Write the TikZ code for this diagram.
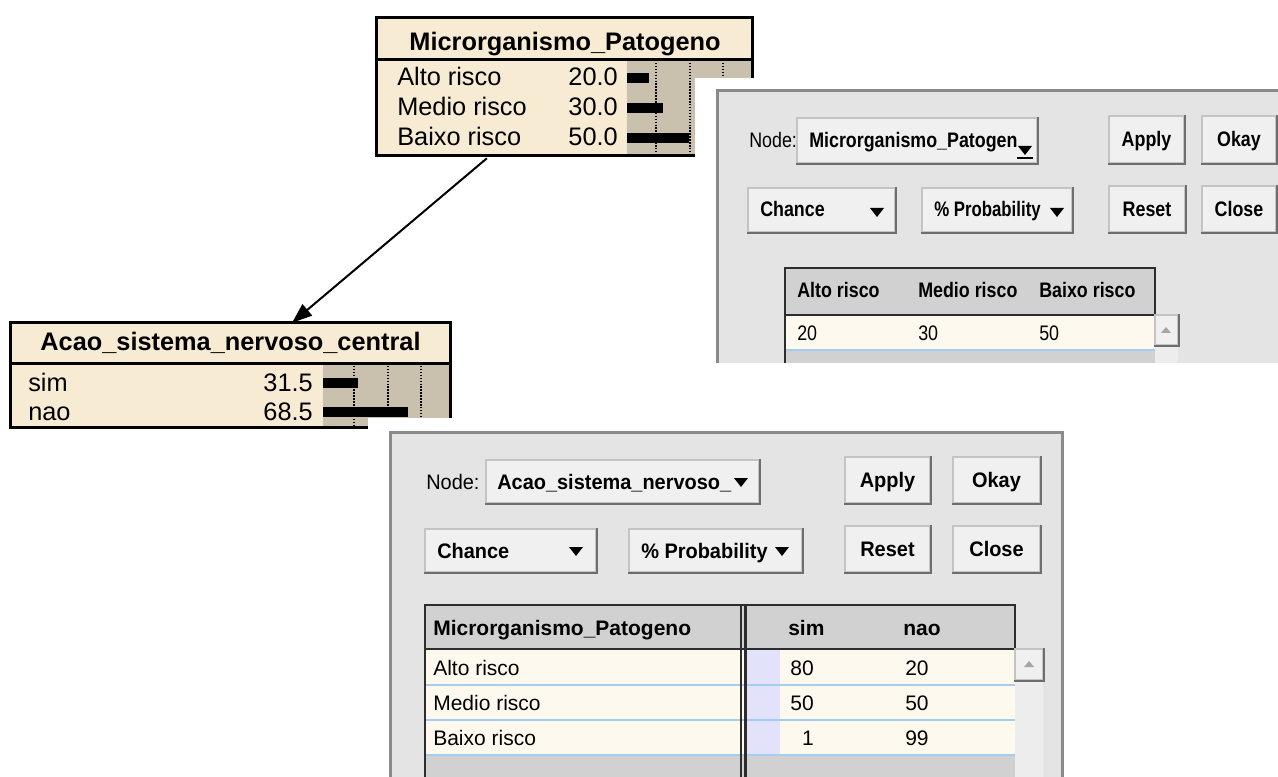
\documentclass[tikz,border=0pt]{standalone}
\usepackage{fontspec}
\setmainfont{Liberation Sans}
\usepackage{graphicx}
\usetikzlibrary{arrows.meta,calc,fit}

\definecolor{netcream}{RGB}{247,236,211}
\definecolor{nettan}{RGB}{201,193,173}
\definecolor{dlgbg}{RGB}{228,228,228}
\definecolor{dlgedge}{RGB}{138,138,138}
\definecolor{btnface}{RGB}{240,240,240}
\definecolor{btnrim}{RGB}{196,196,196}
\definecolor{btnshade}{RGB}{110,110,110}
\definecolor{hdrgray}{RGB}{209,209,209}
\definecolor{rowcream}{RGB}{254,249,239}
\definecolor{rowline}{RGB}{166,204,240}
\definecolor{lavender}{RGB}{226,226,250}
\definecolor{tabedge}{RGB}{45,45,45}
\definecolor{trackgray}{RGB}{237,237,237}
\definecolor{scrollarrow}{RGB}{165,165,165}

\newcommand\netfont{\fontsize{19pt}{19pt}\selectfont}
\newcommand\dlgfont{\fontsize{15.75pt}{16pt}\selectfont}
% horizontally squeezed dialog lettering
\newcommand\sqU[1]{\scalebox{0.85}[1]{#1}}
\newcommand\sqL[1]{\scalebox{0.95}[1]{#1}}
\newcommand\sqT[1]{\scalebox{1.0}[1]{#1}}
% dark shadow on the lower and right edges of a button node
\newcommand\bevel[1]{\draw[btnedge] (#1.south west) -- (#1.south east) -- (#1.north east);}
% caption centred on a button node
\newcommand\btncap[2]{\node[dtxt, anchor=base] (#1cap) at ($(#1.center)+(0,7.5)$) {#2};}
% drop-down arrow: centre x, top y, half width
\newcommand\ddarrow[3]{\fill (#1-#3,#2) -- (#1+#3,#2) -- (#1,#2+9) -- cycle;}
% scroll-up arrow: centre x, top y
\newcommand\uparrowbtn[2]{\fill[scrollarrow] (#1,#2) -- (#1+5,#2+6) -- (#1-5,#2+6) -- cycle;}

\begin{document}
\begin{tikzpicture}[x=0.75pt,y=-0.75pt,
  netfill/.style={fill=netcream, inner sep=0pt},
  netframe/.style={draw=black, line width=2.25pt},
  nettxt/.style={inner sep=0pt, font=\netfont},
  gridline/.style={black, line width=1.1pt, dash pattern=on 1.1pt off 1.1pt},
  link/.style={line width=1.5pt, -{Triangle[length=15pt,width=11pt]}},
  mask/.style={fill=white},
  dlgrim/.style={draw=dlgedge, line width=2.25pt},
  button/.style={draw=btnrim, fill=btnface, line width=0.9pt, inner sep=0pt},
  btnedge/.style={draw=btnshade, line width=1.6pt},
  dtxt/.style={inner sep=0pt, font=\dlgfont},
  tabrim/.style={draw=tabedge, line width=1.6pt},
  rowsep/.style={draw=rowline, line width=1.5pt},
]
\useasboundingbox (0,0) rectangle (1278,777);

% ---------- belief box: Microrganismo_Patogeno ----------
\node[netfill, fit={(377,18) (752,155)}] (mp) {};
\fill[nettan] (627,60) rectangle (752,155);
\foreach \gx in {656,690,723} \draw[gridline] (\gx,60) -- (\gx,155);
\fill (627,73) rectangle (649,83);
\fill (627,103) rectangle (663,113);
\fill (627,133) rectangle (689,143);
\draw[netframe] (mp.north west) rectangle (mp.south east);
\draw[netframe] (377,60) -- (752,60);
\node[nettxt, font=\netfont\bfseries, anchor=base] (mpT) at (565,51) {Microrganismo\_Patogeno};
\node[nettxt, anchor=base west] (mpA) at (397,86) {Alto risco};
\node[nettxt, anchor=base west] (mpM) at (397,116) {Medio risco};
\node[nettxt, anchor=base west] (mpB) at (397,146) {Baixo risco};
\node[nettxt, anchor=base east] (mpAv) at (618,86) {20.0};
\node[nettxt, anchor=base east] (mpMv) at (618,116) {30.0};
\node[nettxt, anchor=base east] (mpBv) at (618,146) {50.0};

% ---------- belief box: Acao_sistema_nervoso_central ----------
\node[netfill, fit={(11,323) (450,427)}] (ac) {};
\fill[nettan] (323,363) rectangle (450,427);
\foreach \gx in {354,388,421} \draw[gridline] (\gx,363) -- (\gx,427);
\fill (323,378) rectangle (358,388);
\fill (323,407) rectangle (408,417);
\draw[netframe] (ac.north west) rectangle (ac.south east);
\draw[netframe] (11,363) -- (450,363);
\node[nettxt, font=\netfont\bfseries, anchor=base] (acT) at (230.5,350) {Acao\_sistema\_nervoso\_central};
\node[nettxt, anchor=base west] (acS) at (28,391) {sim};
\node[nettxt, anchor=base west] (acN) at (28,420) {nao};
\node[nettxt, anchor=base east] (acSv) at (313,391) {31.5};
\node[nettxt, anchor=base east] (acNv) at (313,420) {68.5};

% ---------- dependency link ----------
\draw[link] ($(mp.south west)!0.2933!(mp.south east)+(0,3)$) -- ($(ac.north west)!0.6401!(ac.north east)$);

% ---------- margins of the two table windows ----------
\fill[mask] (695,78) rectangle (1278,366);
\fill[mask] (368,418) rectangle (1278,777);

% ---------- table window for Microrganismo_Patogeno ----------
\fill[dlgbg] (717,91) rectangle (1278,363);
\draw[dlgrim] (717,363) -- (717,91) -- (1278,91);

\node[dtxt, anchor=base west] (uNodeL) at (749,148) {\sqU{Node:}};
\node[button, fit={(797,118) (1037,163)}] (uNodeDD) {};
\bevel{uNodeDD}
\node[dtxt, anchor=base west] (uNodeT) at (809,148) {\sqU{\bfseries Microrganismo\_Patogen}};
\ddarrow{1025}{146}{7}
\draw[line width=1.2pt] (1017,158) -- (1033,158);

\node[button, fit={(1109,116) (1184,163)}] (uApply) {};
\bevel{uApply}
\btncap{uApply}{\sqU{\bfseries Apply}}
\node[button, fit={(1202,116) (1276,163)}] (uOkay) {};
\bevel{uOkay}
\btncap{uOkay}{\sqU{\bfseries Okay}}

\node[button, fit={(748,188) (895,232)}] (uChance) {};
\bevel{uChance}
\node[dtxt, anchor=base west] (uChanceT) at (760,217) {\sqU{\bfseries Chance}};
\ddarrow{877}{208}{7}
\node[button, fit={(922,188) (1072,232)}] (uProb) {};
\bevel{uProb}
\node[dtxt, anchor=base west] (uProbT) at (934,217) {\scalebox{0.8}[1]{\bfseries \% Probability}};
\ddarrow{1057}{208}{7}

\node[button, fit={(1109,186) (1185,232)}] (uReset) {};
\bevel{uReset}
\btncap{uReset}{\sqU{\bfseries Reset}}
\node[button, fit={(1202,186) (1276,232)}] (uClose) {};
\bevel{uClose}
\btncap{uClose}{\sqU{\bfseries Close}}

% probability table
\fill[hdrgray] (785,268) rectangle (1155,315);
\fill[rowcream] (785,315) rectangle (1155,350);
\fill[hdrgray] (785,350) rectangle (1155,363);
\draw[rowsep] (785,350) -- (1155,350);
\draw[tabrim] (785,363) -- (785,268) -- (1155,268) -- (1155,315) -- (785,315);
\node[dtxt, anchor=base west] (uH1) at (797,298) {\sqU{\bfseries Alto risco}};
\node[dtxt, anchor=base west] (uH2) at (918,298) {\sqU{\bfseries Medio risco}};
\node[dtxt, anchor=base west] (uH3) at (1039,298) {\sqU{\bfseries Baixo risco}};
\node[dtxt, anchor=base west] (uV1) at (797,340) {\sqU{20}};
\node[dtxt, anchor=base west] (uV2) at (918,340) {\sqU{30}};
\node[dtxt, anchor=base west] (uV3) at (1039,340) {\sqU{50}};
\fill[trackgray] (1155,345) rectangle (1178,363);
\node[button, fit={(1155,315) (1178,345)}] (uScroll) {};
\bevel{uScroll}
\uparrowbtn{1166}{327}

% ---------- table window for Acao_sistema_nervoso_central ----------
\fill[dlgbg] (390,432) rectangle (1062,777);
\draw[dlgrim] (390,777) -- (390,432) -- (1062,432) -- (1062,777);

\node[dtxt, anchor=base west] (lNodeL) at (426,489) {\sqL{Node:}};
\node[button, fit={(486,460) (759,503)}] (lNodeDD) {};
\bevel{lNodeDD}
\node[dtxt, anchor=base west] (lNodeT) at (497,489) {\sqL{\bfseries Acao\_sistema\_nervoso\_}};
\ddarrow{741}{478}{7}

\node[button, fit={(845,457) (930,503)}] (lApply) {};
\bevel{lApply}
\btncap{lApply}{\sqL{\bfseries Apply}}
\node[button, fit={(953,457) (1040,503)}] (lOkay) {};
\bevel{lOkay}
\btncap{lOkay}{\sqL{\bfseries Okay}}

\node[button, fit={(425,529) (596,572)}] (lChance) {};
\bevel{lChance}
\node[dtxt, anchor=base west] (lChanceT) at (437,558) {\sqL{\bfseries Chance}};
\ddarrow{576}{547}{7}
\node[button, fit={(629,529) (802,572)}] (lProb) {};
\bevel{lProb}
\node[dtxt, anchor=base west] (lProbT) at (641,558) {\sqL{\bfseries \% Probability}};
\ddarrow{782}{547}{7}

\node[button, fit={(845,526) (930,572)}] (lReset) {};
\bevel{lReset}
\btncap{lReset}{\sqL{\bfseries Reset}}
\node[button, fit={(953,526) (1040,572)}] (lClose) {};
\bevel{lClose}
\btncap{lClose}{\sqL{\bfseries Close}}

% conditional probability table
\fill[hdrgray] (425,605) rectangle (1015,649);
\fill[rowcream] (425,649) rectangle (1015,755);
\fill[lavender] (745,649) rectangle (780,755);
\fill[hdrgray] (425,755) rectangle (1015,777);
\foreach \ry in {685,720,755} \draw[rowsep] (425,\ry) -- (1015,\ry);
\draw[tabrim] (425,777) -- (425,605) -- (1015,605) -- (1015,649) -- (425,649);
\draw[tabrim] (741,605) -- (741,777);
\draw[tabrim] (745.5,605) -- (745.5,777);
\node[dtxt, anchor=base west] (lH1) at (433,635) {\sqT{\bfseries Microrganismo\_Patogeno}};
\node[dtxt, anchor=base west] (lH2) at (788,635) {\sqT{\bfseries sim}};
\node[dtxt, anchor=base west] (lH3) at (903,635) {\sqT{\bfseries nao}};
\node[dtxt, anchor=base west] (lR1) at (433,675) {\sqT{Alto risco}};
\node[dtxt, anchor=base west] (lR2) at (433,710) {\sqT{Medio risco}};
\node[dtxt, anchor=base west] (lR3) at (433,745) {\sqT{Baixo risco}};
\node[dtxt, anchor=base east] (lS1) at (814,675) {\sqT{80}};
\node[dtxt, anchor=base east] (lS2) at (814,710) {\sqT{50}};
\node[dtxt, anchor=base east] (lS3) at (814,745) {\sqT{1}};
\node[dtxt, anchor=base west] (lN1) at (905,675) {\sqT{20}};
\node[dtxt, anchor=base west] (lN2) at (905,710) {\sqT{50}};
\node[dtxt, anchor=base west] (lN3) at (905,745) {\sqT{99}};
\fill[trackgray] (1015,680) rectangle (1043,777);
\node[button, fit={(1015,649) (1043,680)}] (lScroll) {};
\bevel{lScroll}
\uparrowbtn{1029}{661}
\end{tikzpicture}
\end{document}
